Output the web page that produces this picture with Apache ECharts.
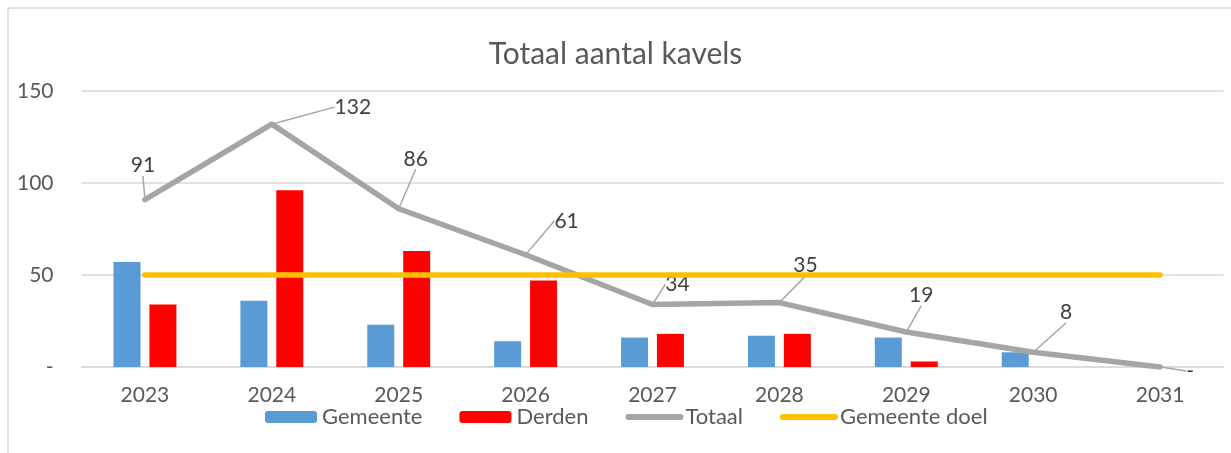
<!DOCTYPE html>
<html>
<head>
<meta charset="utf-8">
<title>Totaal aantal kavels</title>
<script src="https://cdn.jsdelivr.net/npm/echarts@6/dist/echarts.min.js"></script>
<style>
    html, body { margin: 0; padding: 0; background: #fff; }
    #kavels-chart { width: 1231px; height: 453px; }
</style>
</head>
<body>
<div id="kavels-chart"></div>
<script>
    // data
    var years = ['2023', '2024', '2025', '2026', '2027', '2028', '2029', '2030', '2031'];
    var gemeente = [57, 36, 23, 14, 16, 17, 16, 8, 0];
    var derden = [34, 96, 63, 47, 18, 18, 3, 0, 0];
    var totaal = [91, 132, 86, 61, 34, 35, 19, 8, 0];
    var gemeenteDoel = [50, 50, 50, 50, 50, 50, 50, 50, 50];
    var yTicks = [0, 50, 100, 150];

    // where the Totaal labels sit, relative to the default 'top' position
    var labelShift = [
        [-2, -18], [81, -1], [17, -34], [41, -18], [25, -4],
        [26, -21], [15, -21], [33, -24], [30, 20]
    ];

    var grey = '#595959';
    var font = 'Lato, "Open Sans", sans-serif';

    var chart = echarts.init(document.getElementById('kavels-chart'));
    var option = {
        animation: false,
        backgroundColor: '#fff',
        title: {
            text: 'Totaal aantal kavels',
            left: 'center',
            top: 34,
            textStyle: { color: grey, fontSize: 30, fontWeight: 'normal', fontFamily: font }
        },
        graphic: [{
            type: 'rect',
            shape: { x: 8, y: 8, width: 1240, height: 470 },
            style: { fill: 'none', stroke: '#d9d9d9', lineWidth: 1.5 },
            silent: true
        }],
        legend: {
            left: 265,
            top: 406,
            padding: 0,
            itemWidth: 52,
            itemHeight: 12,
            itemGap: 37,
            textStyle: { color: grey, fontSize: 22, fontFamily: font },
            data: [
                'Gemeente',
                'Derden',
                { name: 'Totaal', itemStyle: { opacity: 0 }, lineStyle: { width: 6, cap: 'round' } },
                { name: 'Gemeente doel', itemStyle: { opacity: 0 }, lineStyle: { width: 6, cap: 'round' } }
            ]
        },
        grid: { left: 81.5, right: 7.5, top: 91, bottom: 86 },
        xAxis: {
            type: 'category',
            data: years,
            axisTick: { show: false },
            axisLine: { lineStyle: { color: '#d9d9d9', width: 1.5 } },
            axisLabel: { color: grey, fontSize: 21, fontFamily: font, margin: 18 }
        },
        yAxis: {
            type: 'value',
            min: yTicks[0],
            max: yTicks[yTicks.length - 1],
            interval: 50,
            axisLine: { show: false },
            axisTick: { show: false },
            splitLine: { lineStyle: { color: '#d9d9d9', width: 1.5 } },
            axisLabel: {
                color: grey, fontSize: 21, fontFamily: font, margin: 28,
                formatter: function (v) { return v === 0 ? '-' : v; }
            }
        },
        series: [
            {
                name: 'Gemeente',
                type: 'bar',
                data: gemeente,
                barWidth: 27,
                barGap: '33%',
                itemStyle: { color: '#5B9BD5' }
            },
            {
                name: 'Derden',
                type: 'bar',
                data: derden,
                barWidth: 27,
                itemStyle: { color: '#FF0000' }
            },
            {
                name: 'Totaal',
                type: 'line',
                data: totaal,
                symbol: 'circle',
                symbolSize: 1,
                lineStyle: { color: '#A5A5A5', width: 5.5, cap: 'round', join: 'round' },
                itemStyle: { color: '#A5A5A5' },
                label: {
                    show: true,
                    position: 'top',
                    color: '#404040',
                    fontSize: 21,
                    fontFamily: font,
                    formatter: function (p) { return p.value === 0 ? '-' : p.value; }
                },
                labelLine: {
                    show: true,
                    lineStyle: { color: '#A6A6A6', width: 1.5 }
                },
                labelLayout: function (p) {
                    var s = labelShift[p.dataIndex];
                    return { dx: s[0], dy: s[1] };
                },
                z: 3
            },
            {
                name: 'Gemeente doel',
                type: 'line',
                data: gemeenteDoel,
                symbol: 'none',
                lineStyle: { color: '#FFC000', width: 5.5, cap: 'round' },
                itemStyle: { color: '#FFC000' },
                z: 4
            }
        ]
    };
    chart.setOption(option);
</script>
</body>
</html>
